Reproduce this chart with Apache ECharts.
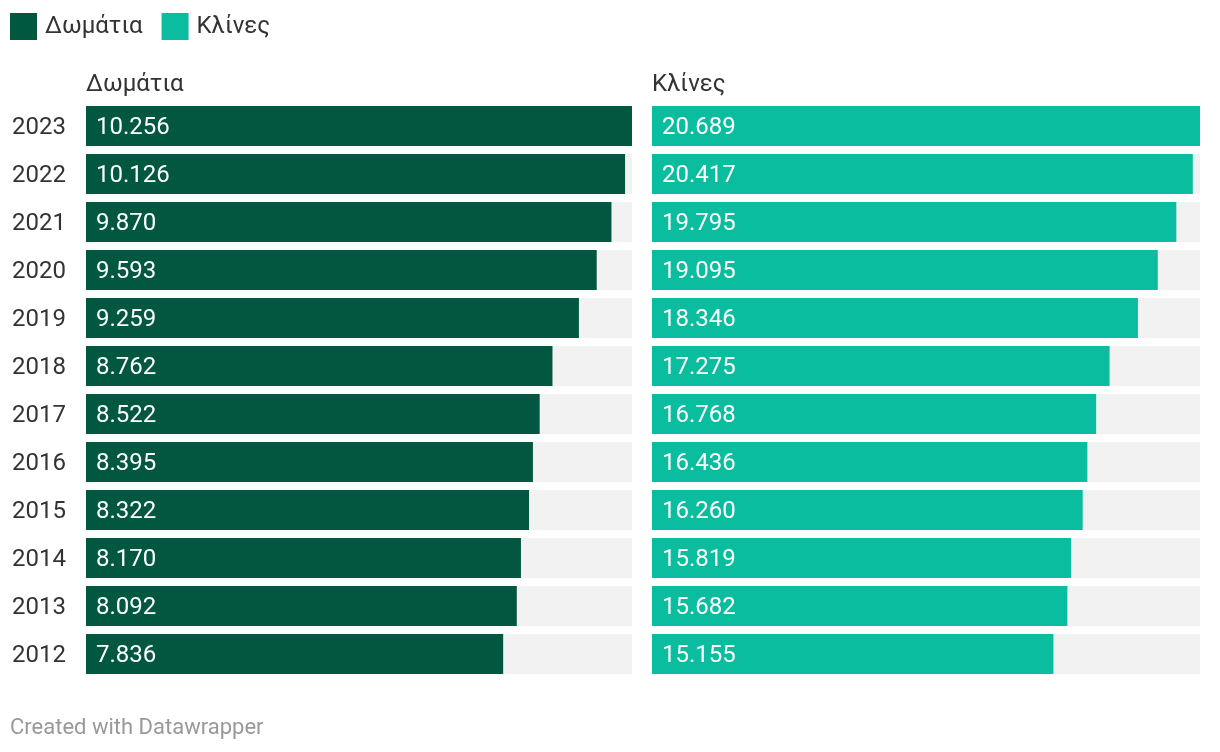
<!DOCTYPE html>
<html><head><meta charset="utf-8">
<script src="https://cdn.jsdelivr.net/npm/echarts@6/dist/echarts.min.js"></script>
<style>html,body{margin:0;padding:0;background:#fff}#c{width:1220px;height:752px}</style>
</head><body><div id="c"></div>
<script>
const years = ['2023','2022','2021','2020','2019','2018','2017','2016','2015','2014','2013','2012'];
const rooms = [10256,10126,9870,9593,9259,8762,8522,8395,8322,8170,8092,7836];
const beds = [20689,20417,19795,19095,18346,17275,16768,16436,16260,15819,15682,15155];
const seriesNames = ['Δωμάτια','Κλίνες'];
const colors = ['#01573f','#0bbd9f'];
const FONT = 'Roboto';
const fmt = v => String(v).replace(/\B(?=(\d{3})+(?!\d))/g, '.');

const chart = echarts.init(document.getElementById('c'), null, {renderer:'canvas'});
const label = {show:true, position:'insideLeft', distance:11, offset:[-1,2], color:'#fff', fontSize:24, fontFamily:FONT, formatter:p=>fmt(p.value)};
chart.setOption({
  animation:false,
  textStyle:{fontFamily:FONT},
  legend:{left:5, top:8, icon:'rect', itemWidth:27, itemHeight:27, itemGap:19,
    textStyle:{fontSize:24, color:'#333', fontFamily:FONT, padding:[0,0,0,3]}, data:seriesNames},
  title:[
    {text:seriesNames[0], left:81, top:68, textStyle:{fontSize:24, fontWeight:'normal', color:'#333', fontFamily:FONT}},
    {text:seriesNames[1], left:647, top:68, textStyle:{fontSize:24, fontWeight:'normal', color:'#333', fontFamily:FONT}},
    {text:'Created with Datawrapper', left:5, top:712, textStyle:{fontSize:22, fontWeight:'normal', color:'#999', fontFamily:FONT}}
  ],
  grid:[
    {left:86, width:546, top:102, height:576},
    {left:652, width:548, top:102, height:576}
  ],
  xAxis:[
    {gridIndex:0, type:'value', min:0, max:Math.max(...rooms), show:false},
    {gridIndex:1, type:'value', min:0, max:Math.max(...beds), show:false}
  ],
  yAxis:[
    {gridIndex:0, type:'category', data:years, inverse:true, axisLine:{show:false}, axisTick:{show:false},
      axisLabel:{color:'#333', margin:20, formatter:'{y|{value}}',
        rich:{y:{fontSize:24, color:'#333', fontFamily:FONT, padding:[3,0,0,0]}}}},
    {gridIndex:1, type:'category', data:years, inverse:true, show:false}
  ],
  series:[
    {name:seriesNames[0], type:'bar', xAxisIndex:0, yAxisIndex:0, data:rooms, barWidth:40,
      itemStyle:{color:colors[0]}, showBackground:true, backgroundStyle:{color:'#f2f2f2'}, label:label},
    {name:seriesNames[1], type:'bar', xAxisIndex:1, yAxisIndex:1, data:beds, barWidth:40,
      itemStyle:{color:colors[1]}, showBackground:true, backgroundStyle:{color:'#f2f2f2'}, label:label}
  ]
});
</script></body></html>
